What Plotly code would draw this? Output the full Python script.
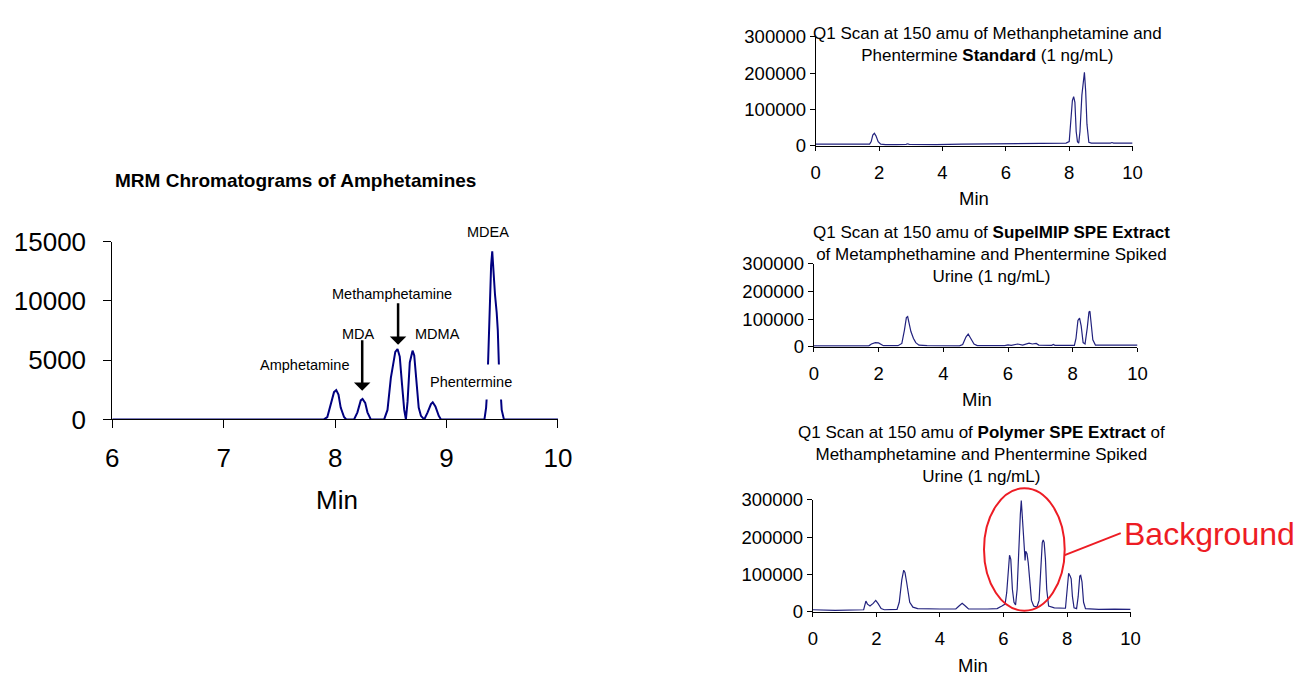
import plotly.graph_objects as go

W, H = 1304, 683

def px(X):
    return X / W

def py(Y):
    return 1 - Y / H

# ---------------- DATA ----------------
# MRM chromatogram (left)
mrm_min = [6.0, 7.36, 7.38, 7.40, 7.90, 7.93, 7.96, 7.99, 8.01, 8.03, 8.05, 8.08, 8.10,
           8.17, 8.20, 8.23, 8.246, 8.27, 8.29, 8.32, 8.44, 8.47, 8.50, 8.54, 8.56, 8.58,
           8.60, 8.62, 8.635, 8.65, 8.67, 8.695, 8.71, 8.73, 8.75, 8.77, 8.80, 8.83, 8.86,
           8.876, 8.90, 8.93, 8.95, 9.34, 9.355, 9.365, 9.372, 9.375, 9.387, 9.40, 9.41,
           9.42, 9.435, 9.45, 9.46, 9.47, 9.48, 9.495, 9.515, 10.0]
mrm_int = [0, 0, 60, 0, 0, 200, 1200, 2300, 2475, 2100, 1000, 200, 0,
           0, 600, 1600, 1720, 1400, 600, 0, 0, 800, 3500, 5700, 5940, 5300,
           3000, 800, 0, 1500, 4800, 5800, 5400, 3500, 1000, 300, 0, 600, 1300,
           1450, 1100, 300, 0, 0, 1000, 2500, 4500, 6500, 10000, 13000, 14170,
           12500, 10500, 9000, 7500, 4500, 2500, 800, 0, 0]

# Q1 scan, standard
std_min = [0, 1.70, 1.75, 1.80, 1.85, 1.90, 1.97, 2.05, 2.20, 2.50, 2.55, 2.85, 2.90, 2.95,
           3.50, 3.55, 3.80, 4.60, 5.50, 6.00, 6.50, 7.90, 8.00, 8.05, 8.10, 8.14, 8.18,
           8.22, 8.26, 8.30, 8.34, 8.40, 8.45, 8.48, 8.52, 8.56, 8.62, 8.70, 9.30, 9.35,
           9.40, 9.70, 9.75, 9.80, 10.0]
std_int = [5000, 5000, 12000, 30000, 35000, 28000, 12000, 5000, 4000, 2500, 4000, 4500, 6000, 4500,
           4000, 3000, 4000, 5000, 5500, 6500, 7500, 8000, 12000, 60000, 125000, 136000, 120000,
           40000, 12000, 8000, 40000, 140000, 195000, 203000, 150000, 60000, 10000, 8000, 8000, 9500,
           8000, 8000, 9500, 8000, 8000]

# Q1 scan, SupelMIP SPE extract
mip_min = [0, 1.70, 1.78, 1.90, 2.00, 2.08, 2.15, 2.60, 2.72, 2.80, 2.86, 2.90, 2.95, 3.00,
           3.08, 3.15, 3.25, 3.50, 4.50, 4.60, 4.70, 4.77, 4.85, 4.95, 5.05, 5.90, 6.00, 6.10,
           6.30, 6.45, 6.65, 6.75, 6.87, 6.95, 7.35, 7.40, 7.45, 8.05, 8.10, 8.16, 8.21, 8.26,
           8.32, 8.38, 8.45, 8.50, 8.53, 8.57, 8.62, 8.70, 10.0]
mip_int = [3000, 3500, 10000, 15000, 14000, 9000, 4000, 4000, 12000, 60000, 105000, 109000, 85000, 55000,
           30000, 15000, 6000, 4000, 3500, 8000, 35000, 46000, 30000, 10000, 4000, 4000, 7000, 5000,
           10000, 6000, 13000, 10000, 12000, 6000, 5000, 8000, 5000, 5000, 30000, 95000, 103000, 75000,
           15000, 10000, 70000, 125000, 128000, 90000, 25000, 6000, 6000]

# Q1 scan, polymer SPE extract
poly_min = [0, 0.65, 0.70, 1.60, 1.67, 1.72, 1.80, 1.90, 1.98, 2.05, 2.15, 2.25, 2.65, 2.72,
            2.80, 2.86, 2.90, 2.95, 3.00, 3.05, 3.15, 3.30, 4.00, 4.50, 4.60, 4.70, 4.80, 4.90,
            5.50, 5.80, 5.95, 6.05, 6.10, 6.15, 6.19, 6.23, 6.28, 6.33, 6.38, 6.43, 6.48, 6.53,
            6.56, 6.59, 6.62, 6.66, 6.68, 6.70, 6.74, 6.78, 6.83, 6.88, 6.95, 7.05, 7.12, 7.18,
            7.22, 7.25, 7.28, 7.32, 7.36, 7.42, 7.60, 7.95, 8.00, 8.05, 8.10, 8.13, 8.17, 8.22,
            8.30, 8.35, 8.40, 8.43, 8.47, 8.52, 8.58, 9.00, 9.50, 10.0]
poly_int = [5000, 4500, 3500, 5000, 28000, 20000, 15000, 22000, 30000, 22000, 8000, 5000, 6000, 25000,
            85000, 111000, 105000, 80000, 50000, 25000, 12000, 8000, 7000, 7000, 15000, 22000, 15000, 7000,
            7000, 8000, 15000, 20000, 50000, 120000, 151000, 140000, 60000, 25000, 18000, 60000, 180000, 260000,
            298000, 250000, 220000, 150000, 137000, 162000, 155000, 130000, 80000, 30000, 15000, 12000, 30000, 120000,
            185000, 192000, 185000, 140000, 60000, 15000, 10000, 9000, 50000, 103000, 95000, 88000, 40000, 10000,
            8000, 40000, 95000, 97000, 80000, 25000, 8000, 6000, 6500, 6000]

mrm_x_ticks = [6, 7, 8, 9, 10]
mrm_y_ticks = [0, 5000, 10000, 15000]
q1_x_ticks = [0, 2, 4, 6, 8, 10]
q1_y_ticks = [0, 100000, 200000, 300000]

peak_labels = ["MDEA", "Methamphetamine", "MDA", "MDMA", "Amphetamine", "Phentermine"]

title_mrm = "<b>MRM Chromatograms of Amphetamines</b>"
title_std = "Q1 Scan at 150 amu of Methanphetamine and<br>Phentermine <b>Standard</b> (1 ng/mL)"
title_mip = "Q1 Scan at 150 amu of <b>SupelMIP SPE Extract</b><br>of Metamphethamine and Phentermine Spiked<br>Urine (1 ng/mL)"
title_poly = "Q1 Scan at 150 amu of <b>Polymer SPE Extract</b> of<br>Methamphetamine and Phentermine Spiked<br>Urine (1 ng/mL)"

# ---------------- FIGURE ----------------
FONT = "Arial, 'Liberation Sans', sans-serif"
LEFT_COLOR = "#000080"
RIGHT_COLOR = "#22227e"

fig = go.Figure()
fig.add_trace(go.Scatter(x=mrm_min, y=mrm_int, mode="lines", xaxis="x", yaxis="y",
                         line=dict(color=LEFT_COLOR, width=2), showlegend=False, hoverinfo="skip"))
fig.add_trace(go.Scatter(x=std_min, y=std_int, mode="lines", xaxis="x2", yaxis="y2",
                         line=dict(color=RIGHT_COLOR, width=1.2), showlegend=False, hoverinfo="skip"))
fig.add_trace(go.Scatter(x=mip_min, y=mip_int, mode="lines", xaxis="x3", yaxis="y3",
                         line=dict(color=RIGHT_COLOR, width=1.2), showlegend=False, hoverinfo="skip"))
fig.add_trace(go.Scatter(x=poly_min, y=poly_int, mode="lines", xaxis="x4", yaxis="y4",
                         line=dict(color=RIGHT_COLOR, width=1.2), showlegend=False, hoverinfo="skip"))

def xax(domain, rng, ticks, anchor, fsize, tlen, standoff):
    return dict(domain=domain, range=rng, tickvals=ticks, anchor=anchor, showgrid=False,
                zeroline=False, showline=True, linecolor="black", linewidth=1,
                ticks="outside", ticklen=tlen, tickcolor="black", tickwidth=1,
                tickfont=dict(family=FONT, size=fsize, color="black"),
                ticklabelstandoff=standoff, fixedrange=True)

def yax(domain, rng, ticks, anchor, fsize, tlen, standoff):
    return dict(domain=domain, range=rng, tickvals=ticks, anchor=anchor, showgrid=False,
                zeroline=False, showline=True, linecolor="black", linewidth=1,
                ticks="outside", ticklen=tlen, tickcolor="black", tickwidth=1, tickformat="d",
                tickfont=dict(family=FONT, size=fsize, color="black"),
                ticklabelstandoff=standoff, fixedrange=True)

layout = dict(
    width=W, height=H, margin=dict(l=0, r=0, t=0, b=0), autosize=False,
    paper_bgcolor="white", plot_bgcolor="white", showlegend=False,
    font=dict(family=FONT, color="black"),
    xaxis=xax([px(107), px(560)], [6, 10], mrm_x_ticks, "y", 26, 8, 7),
    yaxis=yax([py(423), py(237)], [0, 15000], mrm_y_ticks, "x", 26, 8, 12),
    xaxis2=xax([px(822), px(1144)], [0, 10], q1_x_ticks, "y2", 18.5, 4, 6),
    yaxis2=yax([py(137), py(23)], [0, 300000], q1_y_ticks, "x2", 18.5, 5, 0),
    xaxis3=xax([px(820), px(1149)], [0, 10], q1_x_ticks, "y3", 18.5, 4, 6),
    yaxis3=yax([py(347), py(260)], [0, 300000], q1_y_ticks, "x3", 18.5, 5, 0),
    xaxis4=xax([px(819), px(1142)], [0, 10], q1_x_ticks, "y4", 18.5, 4, 6),
    yaxis4=yax([py(624), py(507)], [0, 300000], q1_y_ticks, "x4", 18.5, 5, 0),
)
fig.update_layout(**layout)

ann = []
def text_ann(text, X, Y, size, xanchor="center", color="black", **kw):
    d = dict(text=text, x=px(X), y=py(Y), xref="paper", yref="paper", showarrow=False,
             xanchor=xanchor, yanchor="middle", font=dict(family=FONT, size=size, color=color))
    d.update(kw)
    ann.append(d)

# titles
text_ann(title_mrm, 293, 173, 19)
text_ann(title_std, 997, 31, 17)
text_ann(title_mip, 1001, 250, 17)
text_ann(title_poly, 990, 460, 17)

# axis titles
text_ann("Min", 335, 507, 26)
text_ann("Min", 983, 192, 18.5)
text_ann("Min", 986, 402, 18.5)
text_ann("Min", 982, 680, 18.5)

# peak labels on MRM chart
label_pos = [(489, 227), (391, 292), (357, 334), (438, 334), (302, 366), (472, 384)]
for lab, (X, Y) in zip(peak_labels, label_pos):
    if lab == "Phentermine":
        text_ann(lab, X, Y, 14.5, bgcolor="white", borderpad=9)
    else:
        text_ann(lab, X, Y, 14.5)

# arrows (tips in data coordinates of the MRM axis)
for tip_x, tip_y, tail in [(8.243, 2419, -52), (8.565, 6290, -43)]:
    ann.append(dict(x=tip_x, y=tip_y, xref="x", yref="y", text="", showarrow=True,
                    ax=0, ay=tail, arrowhead=1, arrowsize=1.1, arrowwidth=2.5,
                    arrowcolor="black", standoff=0))

# Background callout
RED = "#ED1C24"
text_ann("Background", 1133, 543, 32, xanchor="left", color=RED)
fig.update_layout(annotations=ann)

fig.add_shape(type="circle", xref="paper", yref="paper",
              x0=px(993), x1=px(1075), y0=py(623), y1=py(495),
              line=dict(color=RED, width=2))
fig.add_shape(type="line", xref="paper", yref="paper",
              x0=px(1075), y0=py(565), x1=px(1132), y1=py(542),
              line=dict(color=RED, width=2))

fig.write_html("out.html", config={"displayModeBar": False},
               post_script="document.body.style.margin='0';document.body.style.overflow='hidden';")
